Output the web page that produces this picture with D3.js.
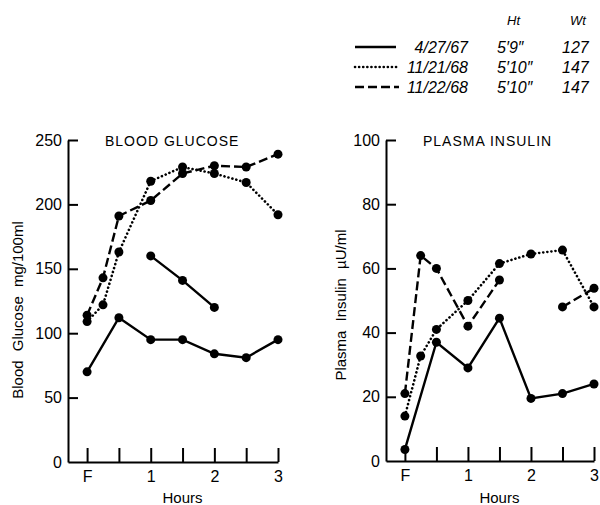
<!DOCTYPE html>
<html>
<head>
<meta charset="utf-8">
<script src="https://cdn.jsdelivr.net/npm/d3@7"></script>
<style>
  body { margin: 0; background: #fff; }
  text { font-family: "Liberation Sans", Arial, sans-serif; fill: #000; }
</style>
</head>
<body>
<div id="chart"></div>
<script>
// 时间点 (F = fasting = 0)
const hours = [0, 0.25, 0.5, 1, 1.5, 2, 2.5, 3];
const hourTicks = [0, 0.5, 1, 1.5, 2, 2.5, 3];
const hourLabels = { 0: 'F', 1: '1', 2: '2', 3: '3' };

// 血糖 mg/100ml  (null = 没有测量)
const glucose_42767 = [70, null, 112, 95, 95, 84, 81, 95];
const glucose_42767b = [null, null, null, 160, 141, 120, null, null];
const glucose_112168 = [109, 122, 163, 218, 229, 224, 217, 192];
const glucose_112268 = [114, 143, 191, 203, 224, 230, 229, 239];
const glucoseTicks = [0, 50, 100, 150, 200, 250];

// 胰岛素 µU/ml
const insulin_42767 = [3.6, null, 37, 29, 44.5, 19.5, 21, 24];
const insulin_112168 = [14, 32.7, 41, 50, 61.5, 64.5, 65.7, 48];
const insulin_112268 = [21, 64, 60, 42, 56.4, null, 48, 53.8];
const insulinTicks = [0, 20, 40, 60, 80, 100];

// 图例
const legendDates = ['4/27/67', '11/21/68', '11/22/68'];
const legendHt = ['5\u20329\u2033', '5\u203210\u2033', '5\u203210\u2033'];
const legendWt = ['127', '147', '147'];

const styles = {
  solid: { dash: null, cap: 'butt', w: 2.4 },
  dotted: { dash: '0.1,4', cap: 'round', w: 2.6 },
  dashed: { dash: '9,4', cap: 'butt', w: 2.4 }
};

const width = 600;
const height = 505;

const svg = d3.select('#chart').append('svg')
  .attr('width', width)
  .attr('height', height);

// 图例层
const legend = svg.append('g').attr('class', 'legend');
legend.append('text').attr('x', 507).attr('y', 25).style('font-style', 'italic').style('font-size', '13px').text('Ht');
legend.append('text').attr('x', 570).attr('y', 25).style('font-style', 'italic').style('font-size', '13px').text('Wt');
const legendKinds = ['solid', 'dotted', 'dashed'];
legendDates.forEach((d, i) => {
  const y = 47 + i * 20;
  const st = styles[legendKinds[i]];
  legend.append('line')
    .attr('x1', 355).attr('x2', i === 0 ? 396 : 399)
    .attr('y1', y).attr('y2', y)
    .style('stroke', '#000')
    .style('stroke-width', st.w)
    .style('stroke-dasharray', st.dash)
    .style('stroke-linecap', st.cap);
  legend.append('text').attr('x', 468).attr('y', y + 6)
    .attr('text-anchor', 'end')
    .style('font-style', 'italic').style('font-size', '16px').text(d);
  legend.append('text').attr('x', 497).attr('y', y + 6)
    .style('font-style', 'italic').style('font-size', '16px').text(legendHt[i]);
  legend.append('text').attr('x', 562).attr('y', y + 6)
    .style('font-style', 'italic').style('font-size', '16px').text(legendWt[i]);
});

// 画一个面板
function drawPanel(opts) {
  const g = svg.append('g').attr('class', 'panel');

  const x = d3.scaleLinear().domain([-0.3, 3]).range(opts.xRange);
  const y = d3.scaleLinear().domain(opts.yDomain).range(opts.yRange);

  const xAxis = g.append('g')
    .attr('transform', `translate(0,${opts.yRange[0]})`)
    .call(d3.axisBottom(x)
      .tickValues(hourTicks)
      .tickFormat(d => hourLabels[d] || '')
      .tickSizeInner(-14)
      .tickSizeOuter(0)
      .tickPadding(9));

  const yAxis = g.append('g')
    .attr('transform', `translate(${opts.xRange[0]},0)`)
    .call(d3.axisLeft(y)
      .tickValues(opts.yTicks)
      .tickSizeInner(-10)
      .tickSizeOuter(0)
      .tickPadding(6));

  [xAxis, yAxis].forEach(a => {
    a.selectAll('path, line').style('stroke', '#000').style('stroke-width', 2);
    a.selectAll('text').style('font-size', '16px').style('font-family', '"Liberation Sans", Arial, sans-serif');
  });
  yAxis.select('.tick:first-of-type line').remove();

  // 标题
  g.append('text')
    .attr('x', opts.titleX).attr('y', 146)
    .style('font-size', '14px')
    .style('letter-spacing', '1px')
    .text(opts.title);

  g.append('text')
    .attr('x', (x(0) + x(3)) / 2).attr('y', 503)
    .attr('text-anchor', 'middle')
    .style('font-size', '15px')
    .text('Hours');

  g.append('text')
    .attr('transform', `translate(${opts.ylabX},${opts.ylabY}) rotate(-90)`)
    .attr('text-anchor', 'middle')
    .style('font-size', '15px')
    .style('word-spacing', '5px')
    .text(opts.ylabel);

  const line = d3.line()
    .defined(d => d[1] != null)
    .x(d => x(d[0]))
    .y(d => y(d[1]));

  opts.series.forEach(s => {
    let pts = hours.map((h, i) => [h, s.values[i]]);
    // 没有断开的系列直接跳过缺失点
    if (!s.gaps) pts = pts.filter(d => d[1] != null);
    const st = styles[s.kind];
    g.append('path')
      .datum(pts)
      .attr('d', line)
      .style('fill', 'none')
      .style('stroke', '#000')
      .style('stroke-width', st.w)
      .style('stroke-dasharray', st.dash)
      .style('stroke-linecap', st.cap);

    g.selectAll(null)
      .data(pts.filter(d => d[1] != null))
      .enter()
      .append('circle')
      .attr('cx', d => x(d[0]))
      .attr('cy', d => y(d[1]))
      .attr('r', 4.5)
      .style('fill', '#000');
  });
}

drawPanel({
  xRange: [68, 278],
  yDomain: [0, 250],
  yRange: [462, 140],
  yTicks: glucoseTicks,
  title: 'BLOOD GLUCOSE',
  titleX: 105,
  ylabel: 'Blood Glucose mg/100ml',
  ylabX: 23, ylabY: 310,
  series: [
    { values: glucose_42767, kind: 'solid' },
    { values: glucose_42767b, kind: 'solid' },
    { values: glucose_112168, kind: 'dotted' },
    { values: glucose_112268, kind: 'dashed' }
  ]
});

drawPanel({
  xRange: [386, 594],
  yDomain: [0, 100],
  yRange: [461, 140],
  yTicks: insulinTicks,
  title: 'PLASMA INSULIN',
  titleX: 423,
  ylabel: 'Plasma Insulin \u00B5U/ml',
  ylabX: 346, ylabY: 305,
  series: [
    { values: insulin_42767, kind: 'solid' },
    { values: insulin_112168, kind: 'dotted' },
    { values: insulin_112268, kind: 'dashed', gaps: true }
  ]
});
</script>
</body>
</html>
